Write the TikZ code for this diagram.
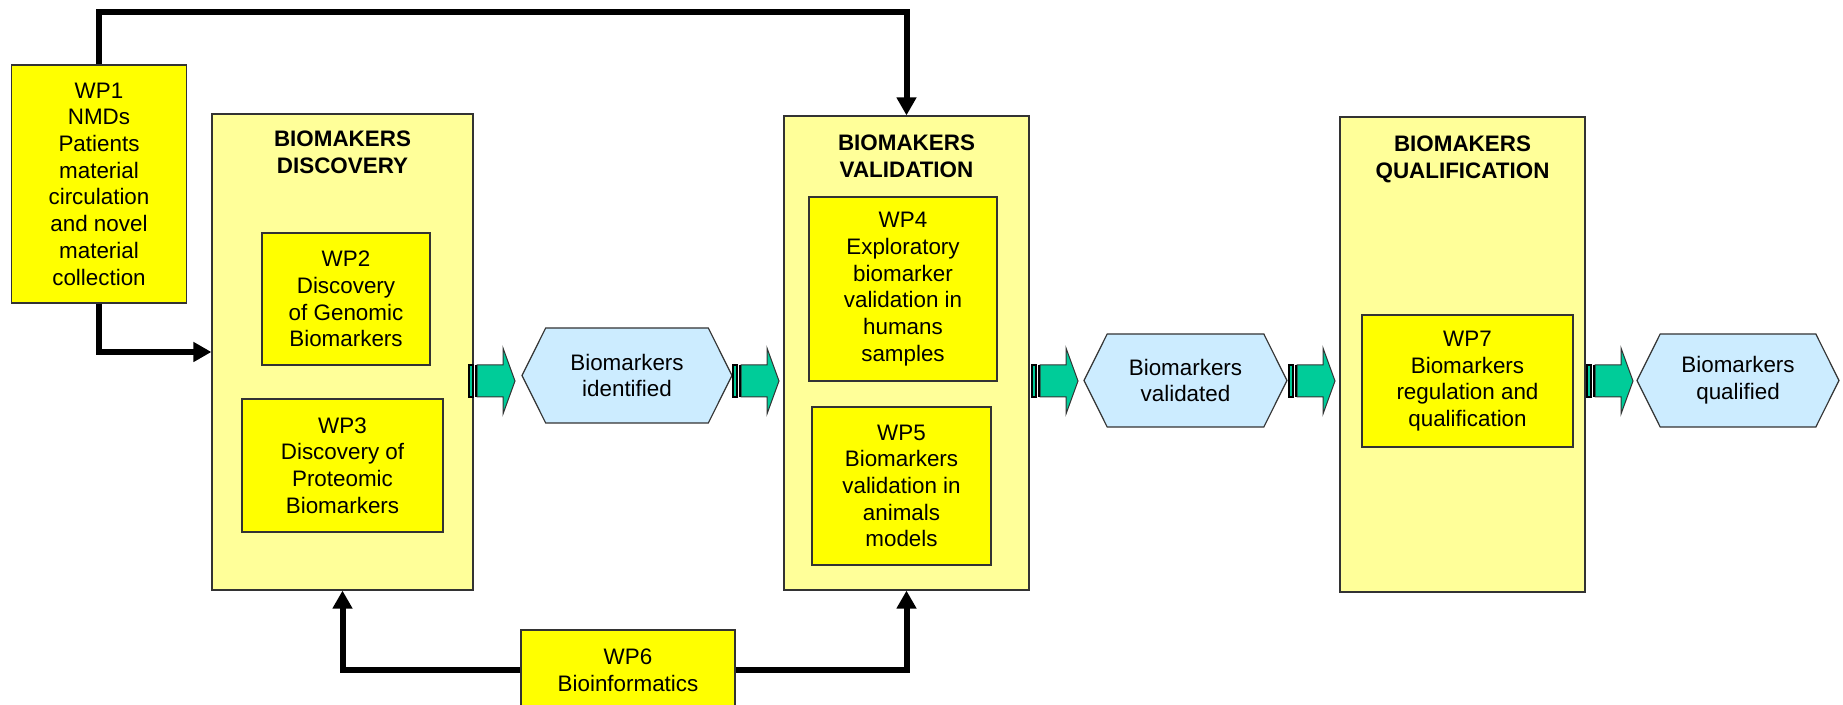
\documentclass[tikz,border=0pt]{standalone}
\usepackage{fontspec}
\setmainfont{Liberation Sans}
\usetikzlibrary{arrows.meta,shapes.symbols,positioning}
\definecolor{wpyellow}{RGB}{255,255,0}
\definecolor{stageyellow}{RGB}{255,255,153}
\definecolor{outputblue}{RGB}{204,236,255}
\definecolor{stepgreen}{RGB}{0,204,153}

\begin{document}
\begin{tikzpicture}[x=0.5pt, y=-0.5pt,
    font=\fontsize{11.2}{13.35}\selectfont,
    wp/.style={draw=black!80, line width=0.6pt, fill=wpyellow, align=center, inner sep=0pt},
    stage/.style={draw=black!80, line width=0.6pt, fill=stageyellow, inner sep=0pt},
    stagetitle/.style={font=\fontsize{11.2}{13.35}\selectfont\bfseries, align=center, inner sep=0pt},
    output/.style={signal, signal to=east and west, signal pointer angle=127,
      draw=black!80, line width=0.6pt, fill=outputblue, align=center, inner sep=0pt},
    flow/.style={line width=3pt, -{Triangle[length=9pt,width=9.5pt]}}]

  \useasboundingbox (0,0) rectangle (1843,705);

  % Stage panels
  \node[stage, minimum width=130.5pt, minimum height=238pt] (disc) at (342.5,352) {};
  \node[stage, minimum width=122.5pt, minimum height=237pt] (valid) at (906.5,353) {};
  \node[stage, minimum width=122.5pt, minimum height=237.5pt] (qual) at (1462.5,354.5) {};

  \node[stagetitle, below=8.5pt of disc.north] (disctitle) {BIOMAKERS\\DISCOVERY};
  \node[stagetitle, below=9.5pt of valid.north] (validtitle) {BIOMAKERS\\VALIDATION};
  \node[stagetitle, below=9.5pt of qual.north] (qualtitle) {BIOMAKERS\\QUALIFICATION};

  % Work packages
  \node[wp, minimum width=87.5pt, minimum height=119pt] (wp1) at (99,184)
    {WP1\\NMDs\\Patients\\material\\circulation\\and novel\\material\\collection};
  \node[wp, minimum width=84pt, minimum height=66pt] (wp2) at (346,299)
    {WP2\\Discovery\\of Genomic\\Biomarkers};
  \node[wp, minimum width=100.5pt, minimum height=66.5pt] (wp3) at (342.5,465.5)
    {WP3\\Discovery of\\Proteomic\\Biomarkers};
  \node[wp, minimum width=94pt, minimum height=92pt] (wp4) at (903,289)
    {WP4\\Exploratory\\biomarker\\validation in\\humans\\samples};
  \node[wp, minimum width=89.5pt, minimum height=79pt] (wp5) at (901.5,486)
    {WP5\\Biomarkers\\validation in\\animals\\models};
  \node[wp, minimum width=107pt, minimum height=40pt] (wp6) at (628,670)
    {WP6\\Bioinformatics};
  \node[wp, minimum width=105.5pt, minimum height=66pt] (wp7) at (1467.5,381)
    {WP7\\Biomarkers\\regulation and\\qualification};

  % Outputs
  \node[output, minimum width=105pt, minimum height=47.5pt] (identified) at (627,375.5)
    {Biomarkers\\identified};
  \node[output, minimum width=101.5pt, minimum height=46.5pt] (validated) at (1185.5,380.5)
    {Biomarkers\\validated};
  \node[output, minimum width=101pt, minimum height=46.5pt] (qualified) at (1738,380.5)
    {Biomarkers\\qualified};

  % Striped step arrows
  \foreach \xa in {469,733,1032,1289,1587} {
    \draw[fill=stepgreen, draw=black!80, line width=0.5pt]
      (\xa+8,365) -- (\xa+34,365) -- (\xa+34,348) -- (\xa+46,381) --
      (\xa+34,414) -- (\xa+34,397) -- (\xa+8,397) -- cycle;
    \draw[fill=stepgreen, line width=0.8pt] (\xa,365) rectangle (\xa+4,397);
    \fill (\xa+5.5,365) rectangle (\xa+8,397);
  }

  % Feedback lines
  \draw[flow] (wp1.north) -- ++(0,-52) -| (valid.north);
  \draw[flow] (wp1.south) |- (disc.west);
  \draw[flow] (wp6.west) -| (disc.south);
  \draw[flow] (wp6.east) -| (valid.south);

\end{tikzpicture}
\end{document}
